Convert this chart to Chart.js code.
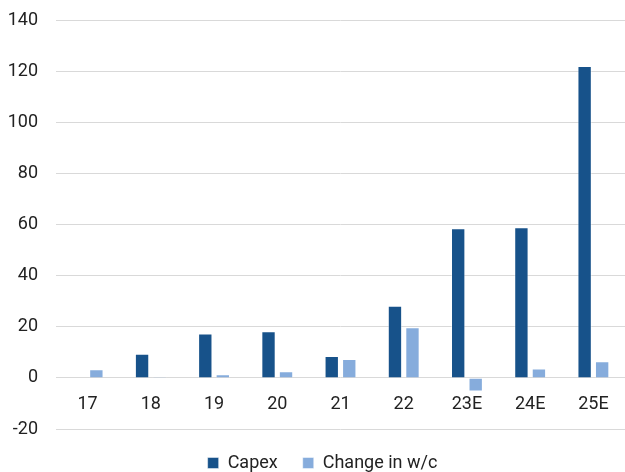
<!DOCTYPE html>
<html>
<head>
<meta charset="utf-8">
<script src="https://cdn.jsdelivr.net/npm/chart.js@4/dist/chart.umd.min.js"></script>
<style>
  html, body { margin: 0; padding: 0; background: #ffffff; }
  #wrap { width: 625px; height: 472px; }
</style>
</head>
<body>
<div id="wrap"><canvas id="chart" width="625" height="472"></canvas></div>
<script>
// Fiscal years (E = estimate)
const categories = ['17', '18', '19', '20', '21', '22', '23E', '24E', '25E'];
// Capital expenditure
const capex = [0, 9.4, 17.4, 18.2, 8.6, 28.2, 58.5, 58.9, 122];
// Change in working capital
const changeWc = [3.4, 0.3, 1.4, 2.6, 7.4, 19.8, -5.3, 3.7, 6.5];
// Value axis
const yMin = -20;
const yMax = 140;
const yStep = 20;

const FONT = 'Roboto, "Liberation Sans", Arial, sans-serif';
const TEXT = '#222222';

// Nudges the bottom legend sideways after layout
const legendShift = {
  id: 'legendShift',
  afterLayout(chart, args, opts) {
    const lg = chart.legend;
    if (lg) {
      lg.left += opts.dx || 0;
      lg.right += opts.dx || 0;
    }
  }
};

new Chart(document.getElementById('chart'), {
  type: 'bar',
  data: {
    labels: categories,
    datasets: [
      {
        label: 'Capex',
        data: capex,
        backgroundColor: '#17528a',
        borderColor: 'rgba(255,255,255,0.45)',
        borderWidth: 1,
        categoryPercentage: 0.554,
        barPercentage: 0.82
      },
      {
        label: 'Change in w/c',
        data: changeWc,
        backgroundColor: '#86acdc',
        borderColor: 'rgba(255,255,255,0.45)',
        borderWidth: 1,
        categoryPercentage: 0.554,
        barPercentage: 0.82
      }
    ]
  },
  plugins: [legendShift],
  options: {
    responsive: false,
    animation: false,
    layout: { padding: { top: 20, right: 0, left: 0, bottom: -10 } },
    scales: {
      x: {
        position: { y: 0 },
        grid: { display: false, drawTicks: false },
        border: { display: false },
        ticks: {
          color: TEXT,
          font: { family: FONT, size: 18 },
          padding: 16,
          maxRotation: 0
        }
      },
      y: {
        min: yMin,
        max: yMax,
        afterFit: (scale) => {
          scale.width = 56;
          scale.paddingTop = 10;
          scale.paddingBottom = 10;
        },
        grid: { color: '#d9d9d9', lineWidth: 1, drawTicks: false },
        border: { display: false },
        ticks: {
          stepSize: yStep,
          color: TEXT,
          font: { family: FONT, size: 18 },
          padding: 18
        }
      }
    },
    plugins: {
      tooltip: { enabled: false },
      legendShift: { dx: 10 },
      legend: {
        position: 'bottom',
        labels: {
          boxWidth: 11,
          boxHeight: 11,
          padding: 25,
          color: TEXT,
          font: { family: FONT, size: 18 }
        }
      }
    }
  }
});
</script>
</body>
</html>
